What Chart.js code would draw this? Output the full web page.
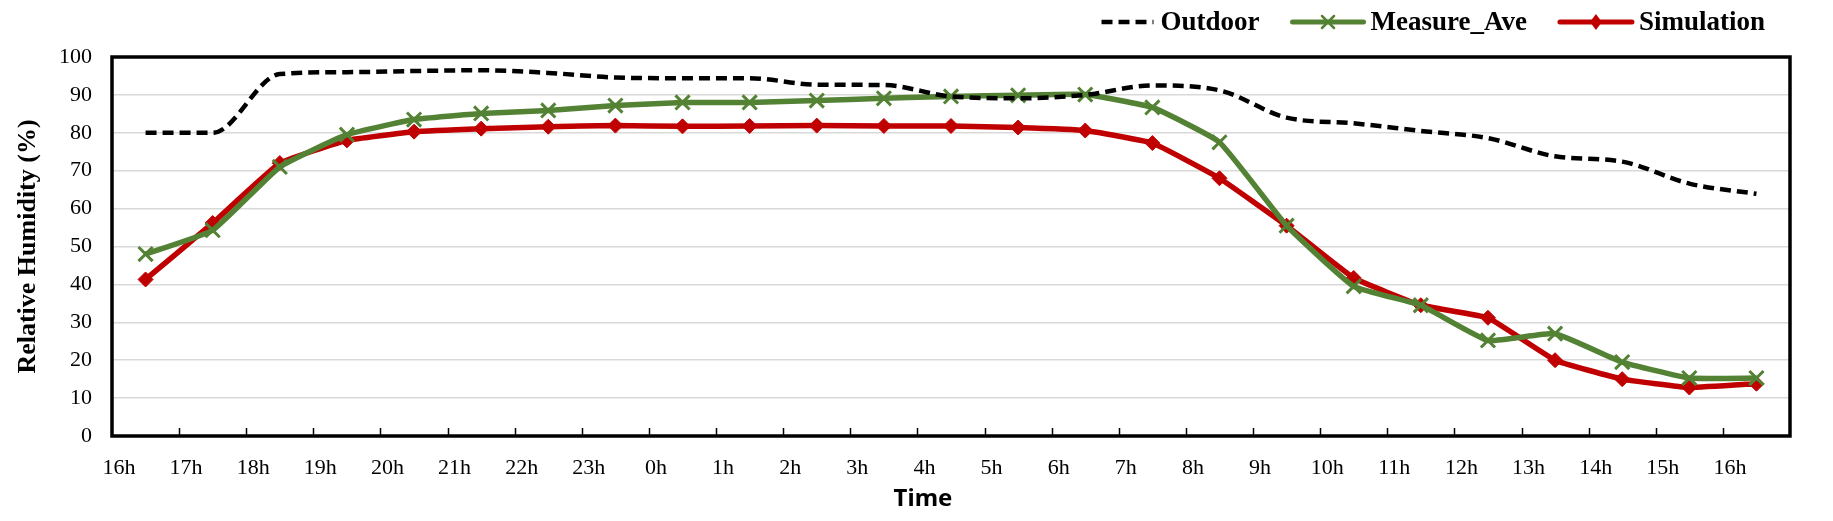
<!DOCTYPE html>
<html>
<head>
<meta charset="utf-8">
<script src="https://cdn.jsdelivr.net/npm/chart.js@4.4.1/dist/chart.umd.min.js"></script>
<style>
  body { margin: 0; background: #fff; }
  #wrap { width: 1833px; height: 521px; position: relative; }
</style>
</head>
<body>
<div id="wrap"><canvas id="rhChart"></canvas></div>
<script>
// hour labels under the axis (one per category boundary)
const hourLabels = ['16h', '17h', '18h', '19h', '20h', '21h', '22h', '23h', '0h', '1h', '2h', '3h',
    '4h', '5h', '6h', '7h', '8h', '9h', '10h', '11h', '12h', '13h', '14h', '15h', '16h'];

const outdoor = [80, 80, 95.5, 96, 96.3, 96.5, 95.8, 94.6, 94.4, 94.4, 92.7, 92.6,
    89.6, 89.1, 90, 92.5, 91.2, 84, 82.5, 80.5, 78.6, 73.8, 72.4, 66.6, 63.9];
const measureAve = [48, 54.3, 71, 79.5, 83.5, 85.1, 85.9, 87.2, 88, 88, 88.5, 89.1,
    89.6, 89.9, 90.1, 86.7, 77.5, 55.5, 39.5, 34.5, 25.2, 27, 19.5, 15.3, 15.3];
const simulation = [41.3, 56.2, 72, 78, 80.3, 81.1, 81.6, 81.9, 81.7, 81.8, 81.9, 81.8,
    81.8, 81.4, 80.6, 77.3, 68, 55.5, 41.7, 34.5, 31.2, 20, 15, 12.8, 13.8];

const GREEN = '#548235';
const RED = '#c00000';

// points sit in the middle of each hour slot
function toPoints(arr) {
    return arr.map((v, i) => ({ x: i + 0.5, y: v }));
}

// legend, inner tick marks, plot frame and axis titles
const decorPlugin = {
    id: 'decor',
    afterDraw(chart) {
        const ctx = chart.ctx;
        const area = chart.chartArea;
        const xs = chart.scales.x;
        ctx.save();

        // short ticks pointing up into the plot
        ctx.strokeStyle = '#000';
        ctx.lineWidth = 1.5;
        for (let i = 1; i < hourLabels.length; i++) {
            const px = Math.round(xs.getPixelForValue(i)) + 0.5;
            ctx.beginPath();
            ctx.moveTo(px, area.bottom);
            ctx.lineTo(px, area.bottom - 8);
            ctx.stroke();
        }

        // frame
        ctx.lineWidth = 3.5;
        ctx.strokeRect(area.left, area.top, area.right - area.left, area.bottom - area.top);

        // axis titles
        ctx.fillStyle = '#000';
        ctx.textAlign = 'center';
        ctx.textBaseline = 'middle';
        ctx.font = 'bold 24px "Noto Sans"';
        ctx.fillText('Time', 923, 499);
        ctx.save();
        ctx.translate(28, (area.top + area.bottom) / 2);
        ctx.rotate(-Math.PI / 2);
        ctx.font = 'bold 26px "Liberation Serif"';
        ctx.fillText('Relative Humidity (%)', 0, 0);
        ctx.restore();

        // legend
        ctx.font = 'bold 27px "Liberation Serif"';
        ctx.textAlign = 'left';
        const y = 22;
        const items = [
            { text: 'Outdoor', color: '#000', dash: [11, 6], len: 52, marker: null, width: 4.5 },
            { text: 'Measure_Ave', color: GREEN, dash: [], len: 71, marker: 'cross', width: 5 },
            { text: 'Simulation', color: RED, dash: [], len: 72, marker: 'diamond', width: 5 }
        ];
        let total = 0;
        items.forEach((it, k) => {
            it.tw = ctx.measureText(it.text).width;
            total += it.len + 7 + it.tw + (k < items.length - 1 ? 33 : 0);
        });
        let x = 1765 - total;
        items.forEach(it => {
            ctx.strokeStyle = it.color;
            ctx.fillStyle = it.color;
            ctx.lineWidth = it.width;
            ctx.setLineDash(it.dash);
            ctx.lineCap = it.dash.length ? 'butt' : 'round';
            ctx.beginPath();
            ctx.moveTo(x, y);
            ctx.lineTo(x + it.len, y);
            ctx.stroke();
            ctx.setLineDash([]);
            const cx = x + it.len / 2;
            if (it.marker === 'cross') {
                ctx.lineWidth = 2.5;
                ctx.beginPath();
                ctx.moveTo(cx - 6, y - 6); ctx.lineTo(cx + 6, y + 6);
                ctx.moveTo(cx + 6, y - 6); ctx.lineTo(cx - 6, y + 6);
                ctx.stroke();
            } else if (it.marker === 'diamond') {
                ctx.beginPath();
                ctx.moveTo(cx, y - 8); ctx.lineTo(cx + 6, y);
                ctx.lineTo(cx, y + 8); ctx.lineTo(cx - 6, y);
                ctx.closePath();
                ctx.fill();
            }
            ctx.fillStyle = '#000';
            ctx.fillText(it.text, x + it.len + 7, y + 1);
            x += it.len + 7 + it.tw + 33;
        });
        ctx.restore();
    }
};

new Chart(document.getElementById('rhChart'), {
    type: 'line',
    data: {
        datasets: [
            {
                label: 'Outdoor',
                data: toPoints(outdoor),
                borderColor: '#000',
                borderWidth: 4.5,
                borderDash: [11, 6],
                pointRadius: 0,
                cubicInterpolationMode: 'monotone'
            },
            {
                label: 'Measure_Ave',
                data: toPoints(measureAve),
                borderColor: GREEN,
                borderWidth: 5.5,
                pointStyle: 'crossRot',
                pointRadius: 10,
                pointBorderWidth: 3,
                pointBorderColor: GREEN,
                pointBackgroundColor: GREEN,
                tension: 0.12
            },
            {
                label: 'Simulation',
                data: toPoints(simulation),
                borderColor: RED,
                borderWidth: 5.5,
                pointStyle: 'rectRot',
                pointRadius: 7.5,
                pointBorderWidth: 1,
                pointBorderColor: RED,
                pointBackgroundColor: RED,
                tension: 0.1
            }
        ]
    },
    options: {
        responsive: true,
        maintainAspectRatio: false,
        devicePixelRatio: 1,
        animation: false,
        layout: { padding: { top: 57, right: 43, left: 0, bottom: 0 } },
        plugins: {
            legend: { display: false },
            tooltip: { enabled: false }
        },
        scales: {
            x: {
                type: 'linear',
                min: 0,
                max: 25,
                afterFit: s => { s.height = 85; },
                afterBuildTicks: s => {
                    s.ticks = hourLabels.map((_, i) => ({ value: i }));
                },
                grid: { display: false, drawTicks: false },
                border: { display: false },
                ticks: {
                    autoSkip: false,
                    maxRotation: 0,
                    padding: 19,
                    labelOffset: 7,
                    color: '#000',
                    font: { family: '"Liberation Serif"', size: 22 },
                    callback: v => hourLabels[v] ?? ''
                }
            },
            y: {
                min: 0,
                max: 100,
                afterFit: s => { s.width = 112; },
                grid: {
                    color: ctx => (ctx.tick.value === 0 || ctx.tick.value === 100) ? 'rgba(0,0,0,0)' : '#d9d9d9',
                    lineWidth: 1.5,
                    drawTicks: false
                },
                border: { display: false },
                ticks: {
                    stepSize: 10,
                    padding: 20,
                    color: '#000',
                    font: { family: '"Liberation Serif"', size: 22 }
                }
            }
        }
    },
    plugins: [decorPlugin]
});
</script>
</body>
</html>
